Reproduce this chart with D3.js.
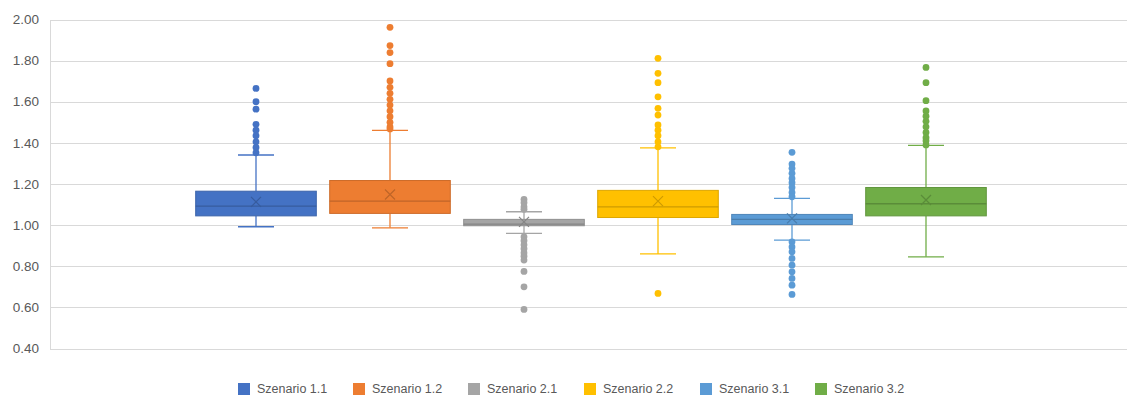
<!DOCTYPE html>
<html>
<head>
<meta charset="utf-8">
<script src="https://cdn.jsdelivr.net/npm/d3@7"></script>
<style>
  html, body { margin: 0; padding: 0; background: #fff; }
  svg { display: block; font-family: "Liberation Sans", Arial, sans-serif; }
</style>
</head>
<body>
<svg id="chart" width="1127" height="396"></svg>
<script>
const series = ["Szenario 1.1", "Szenario 1.2", "Szenario 2.1", "Szenario 2.2", "Szenario 3.1", "Szenario 3.2"];
const colors = ["#4472C4", "#ED7D31", "#A5A5A5", "#FFC000", "#5B9BD5", "#70AD47"];
const whiskerLow  = [0.992, 0.987, 0.960, 0.860, 0.927, 0.846];
const q1          = [1.045, 1.057, 0.997, 1.037, 1.003, 1.045];
const median      = [1.092, 1.117, 1.005, 1.089, 1.028, 1.104];
const q3          = [1.165, 1.217, 1.028, 1.169, 1.052, 1.183];
const whiskerHigh = [1.341, 1.461, 1.065, 1.376, 1.130, 1.388];
const mean        = [1.113, 1.149, 1.016, 1.117, 1.033, 1.122];
const outliers1_1 = [1.665, 1.600, 1.564, 1.490, 1.462, 1.435, 1.405, 1.378, 1.352];
const outliers1_2 = [1.962, 1.873, 1.839, 1.785, 1.701, 1.670, 1.641, 1.612, 1.584, 1.556, 1.527, 1.500, 1.478, 1.468];
const outliers2_1 = [1.125, 1.109, 1.089, 1.077, 0.943, 0.924, 0.904, 0.885, 0.865, 0.849, 0.830, 0.775, 0.700, 0.590];
const outliers2_2 = [1.811, 1.738, 1.693, 1.624, 1.568, 1.535, 1.487, 1.462, 1.435, 1.405, 1.381, 0.668];
const outliers3_1 = [1.354, 1.297, 1.276, 1.252, 1.227, 1.206, 1.183, 1.159, 1.138, 0.919, 0.894, 0.870, 0.838, 0.805, 0.773, 0.741, 0.708, 0.663];
const outliers3_2 = [1.767, 1.693, 1.605, 1.555, 1.530, 1.505, 1.478, 1.451, 1.425, 1.410, 1.390];
const outliers = [outliers1_1, outliers1_2, outliers2_1, outliers2_2, outliers3_1, outliers3_2];
const yTicks = [0.40, 0.60, 0.80, 1.00, 1.20, 1.40, 1.60, 1.80, 2.00];

const svg = d3.select("#chart");
const plotLeft = 50, plotRight = 1127;

const y = d3.scaleLinear().domain([0.40, 2.00]).range([348.5, 19.5]);
const x = d3.scaleBand().domain(series).range([189, 993]).paddingInner(0.1).paddingOuter(0.05);

// gridlines
svg.append("g").selectAll("line").data(yTicks).join("line")
  .attr("x1", plotLeft).attr("x2", plotRight)
  .attr("y1", d => Math.round(y(d)) + 0.5).attr("y2", d => Math.round(y(d)) + 0.5)
  .attr("stroke", "#d9d9d9").attr("stroke-width", 1);
// left axis line
svg.append("line")
  .attr("x1", plotLeft + 0.5).attr("x2", plotLeft + 0.5)
  .attr("y1", Math.round(y(2.0)) + 0.5).attr("y2", Math.round(y(0.4)) + 0.5)
  .attr("stroke", "#d9d9d9");

// y axis labels
svg.append("g").selectAll("text").data(yTicks).join("text")
  .attr("x", 39).attr("y", d => y(d))
  .attr("dy", "0.35em").attr("text-anchor", "end")
  .attr("font-size", 13.5).attr("fill", "#595959")
  .text(d3.format(".2f"));

const data = series.map((s, i) => ({
  s, i, color: colors[i], lo: whiskerLow[i], q1: q1[i], med: median[i], q3: q3[i], hi: whiskerHigh[i], mean: mean[i], out: outliers[i]
}));

const g = svg.append("g").selectAll("g").data(data).join("g");
const bw = x.bandwidth();
const cx = d => x(d.s) + bw / 2;
const capW = 36;

// whiskers
g.append("line").attr("x1", cx).attr("x2", cx).attr("y1", d => y(d.q3)).attr("y2", d => y(d.hi))
  .attr("stroke", d => d.color).attr("stroke-width", 1.3);
g.append("line").attr("x1", cx).attr("x2", cx).attr("y1", d => y(d.q1)).attr("y2", d => y(d.lo))
  .attr("stroke", d => d.color).attr("stroke-width", 1.3);
g.append("line").attr("x1", d => cx(d) - capW / 2).attr("x2", d => cx(d) + capW / 2)
  .attr("y1", d => y(d.hi)).attr("y2", d => y(d.hi))
  .attr("stroke", d => d.color).attr("stroke-width", 1.3);
g.append("line").attr("x1", d => cx(d) - capW / 2).attr("x2", d => cx(d) + capW / 2)
  .attr("y1", d => y(d.lo)).attr("y2", d => y(d.lo))
  .attr("stroke", d => d.color).attr("stroke-width", 1.3);

// box
g.append("rect")
  .attr("x", d => x(d.s)).attr("width", bw)
  .attr("y", d => y(d.q3)).attr("height", d => y(d.q1) - y(d.q3))
  .attr("fill", d => d.color)
  .attr("stroke", d => d3.color(d.color).darker(0.4)).attr("stroke-width", 1);
// median
g.append("line").attr("x1", d => x(d.s)).attr("x2", d => x(d.s) + bw)
  .attr("y1", d => y(d.med)).attr("y2", d => y(d.med))
  .attr("stroke", d => d3.color(d.color).darker(0.6)).attr("stroke-width", 1.3);
// mean X
const m = 5;
g.append("path")
  .attr("d", d => {
    const px = cx(d), py = y(d.mean);
    return `M${px - m},${py - m}L${px + m},${py + m}M${px - m},${py + m}L${px + m},${py - m}`;
  })
  .attr("stroke", d => d3.color(d.color).darker(0.6)).attr("stroke-width", 1.2).attr("fill", "none");

// outliers
g.each(function(d) {
  d3.select(this).selectAll("circle").data(d.out).join("circle")
    .attr("cx", cx(d)).attr("cy", v => y(v)).attr("r", 3.4)
    .attr("fill", d.color);
});

// legend
const legX = [238, 353, 468, 584, 700, 815];
const leg = svg.append("g").selectAll("g").data(series).join("g")
  .attr("transform", (d, i) => `translate(${legX[i]},383)`);
leg.append("rect").attr("width", 12).attr("height", 12)
  .attr("fill", (d, i) => colors[i]);
leg.append("text").attr("x", 19).attr("y", 6).attr("dy", "0.35em")
  .attr("font-size", 12.5).attr("fill", "#595959").text(d => d);
</script>
</body>
</html>
